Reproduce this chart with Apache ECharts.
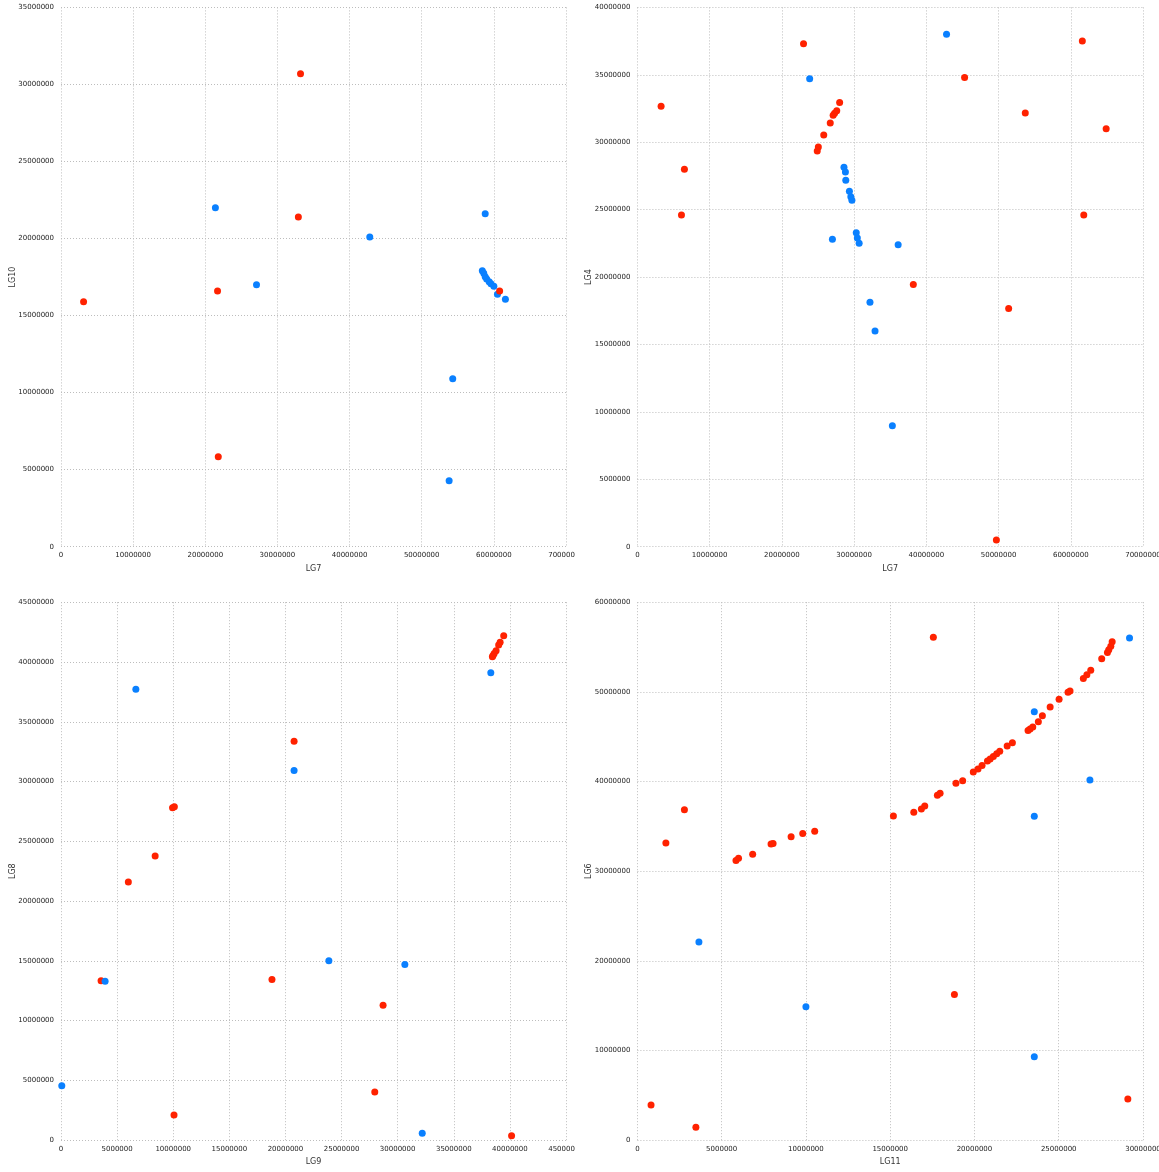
<!DOCTYPE html>
<html>
<head>
<meta charset="utf-8">
<script src="https://cdn.jsdelivr.net/npm/echarts@6/dist/echarts.min.js"></script>
<style>
html,body{margin:0;padding:0;background:#fff;width:1159px;height:1172px;overflow:hidden;}
.c{position:absolute;}
</style>
</head>
<body>
<div id="c1" class="c" style="left:0;top:0;width:575px;height:588px;"></div>
<div id="c2" class="c" style="left:578px;top:0;width:581px;height:588px;"></div>
<div id="c3" class="c" style="left:0;top:590px;width:575px;height:582px;"></div>
<div id="c4" class="c" style="left:578px;top:590px;width:581px;height:582px;"></div>
<script>
// Panel 1: LG7 (x) vs LG10 (y)
const p1Red = [[3130000,15900000],[33200000,30700000],[32900000,21400000],[21700000,16600000],[21800000,5840000],[60800000,16590000]];
const p1Blue = [[21400000,22000000],[27100000,17000000],[42800000,20100000],[58800000,21600000],[54300000,10900000],[53800000,4280000],[58400000,17910000],[58600000,17740000],[58800000,17520000],[59000000,17370000],[59350000,17200000],[59600000,17070000],[60000000,16900000],[60500000,16380000],[61600000,16060000]];
// Panel 2: LG7 (x) vs LG4 (y)
const p2Red = [[3280000,32660000],[6510000,28000000],[6100000,24600000],[23000000,37300000],[45300000,34800000],[38200000,19450000],[51400000,17660000],[49700000,490000],[53700000,32170000],[61600000,37500000],[64900000,31000000],[61800000,24600000],[28000000,32940000],[27600000,32330000],[27300000,32150000],[27100000,32000000],[26700000,31420000],[25800000,30530000],[25050000,29650000],[24900000,29350000]];
const p2Blue = [[23850000,34700000],[42800000,38000000],[36100000,22400000],[32200000,18130000],[32900000,16000000],[35300000,8980000],[28600000,28150000],[28800000,27800000],[28850000,27180000],[29350000,26360000],[29550000,25960000],[29700000,25700000],[30300000,23290000],[30450000,22900000],[30700000,22500000],[27000000,22800000]];
// Panel 3: LG9 (x) vs LG8 (y)
const p3Red = [[3570000,13330000],[6000000,21600000],[8390000,23770000],[9940000,27800000],[10100000,27900000],[10070000,2110000],[18800000,13450000],[20770000,33370000],[27960000,4030000],[28700000,11280000],[40150000,370000],[39450000,42200000],[39130000,41650000],[39000000,41430000],[38770000,40930000],[38600000,40700000],[38500000,40540000],[38440000,40430000]];
const p3Blue = [[6670000,37710000],[20770000,30930000],[23870000,15000000],[30640000,14690000],[32190000,590000],[70000,4560000],[3930000,13290000],[38300000,39100000]];
// Panel 4: LG11 (x) vs LG6 (y)
const p4Red = [[810000,3930000],[1690000,33140000],[2790000,36860000],[3470000,1450000],[18810000,16240000],[29100000,4590000],[17560000,56100000],[5850000,31200000],[6000000,31450000],[6840000,31900000],[7930000,33030000],[8050000,33100000],[9120000,33850000],[9810000,34200000],[10520000,34450000],[15190000,36150000],[16400000,36570000],[16850000,36930000],[17050000,37270000],[17800000,38460000],[17960000,38700000],[18900000,39800000],[19300000,40100000],[19930000,41060000],[20210000,41400000],[20450000,41800000],[20770000,42300000],[20930000,42500000],[21120000,42800000],[21320000,43100000],[21500000,43370000],[21940000,43960000],[22250000,44330000],[23180000,45700000],[23300000,45860000],[23460000,46080000],[23790000,46670000],[24030000,47340000],[24490000,48300000],[25020000,49170000],[25550000,49950000],[25670000,50100000],[26460000,51500000],[26670000,51900000],[26900000,52400000],[27550000,53700000],[27890000,54400000],[27970000,54700000],[28090000,55100000],[28170000,55600000]];
const p4Blue = [[3650000,22100000],[10000000,14880000],[23550000,47770000],[23550000,36130000],[23550000,9300000],[26850000,40180000],[29200000,56000000]];

const xNames = ['LG7','LG7','LG9','LG11'];
const yNames = ['LG10','LG4','LG8','LG6'];
const xMax = [70000000,70000000,45000000,30000000];
const xStep = [10000000,10000000,5000000,5000000];
const yMax = [35000000,40000000,45000000,60000000];
const yStep = [5000000,5000000,5000000,10000000];

const RED = '#ff2200', BLUE = '#0a80ff';
const FONT = 'DejaVu Sans';

function axis(name, max, step, isX) {
  return {
    type: 'value', min: 0, max: max, interval: step,
    name: name, nameLocation: 'middle', nameGap: isX ? 18 : 44, nameMoveOverlap: false,
    nameTextStyle: {fontSize: 8, color: '#333', fontFamily: FONT},
    axisLine: {show: false}, axisTick: {show: false},
    axisLabel: {fontSize: 7, color: '#222', fontFamily: FONT, margin: isX ? 5 : 7,
      formatter: function (v) { return String(v); }},
    splitLine: {show: true, lineStyle: {type: [1, 2], color: '#bdbdbd', width: 1}}
  };
}

function makeOption(i, grid, red, blue, redOnTop) {
  const sRed = {type: 'scatter', data: red, symbolSize: 7, itemStyle: {color: RED, opacity: 1}, z: redOnTop ? 3 : 2};
  const sBlue = {type: 'scatter', data: blue, symbolSize: 7, itemStyle: {color: BLUE, opacity: 1}, z: redOnTop ? 2 : 3};
  return {
    animation: false,
    backgroundColor: '#fff',
    grid: Object.assign({containLabel: false, outerBoundsMode: 'none'}, grid),
    xAxis: axis(xNames[i], xMax[i], xStep[i], true),
    yAxis: axis(yNames[i], yMax[i], yStep[i], false),
    series: [sRed, sBlue]
  };
}

const grids = [
  {left: 61, top: 7.4, width: 505, height: 539.3},
  {left: 59.4, top: 7.4, width: 505.6, height: 539.3},
  {left: 61, top: 12.2, width: 505, height: 538},
  {left: 59.4, top: 12.2, width: 505.6, height: 538}
];
const reds = [p1Red, p2Red, p3Red, p4Red];
const blues = [p1Blue, p2Blue, p3Blue, p4Blue];
['c1','c2','c3','c4'].forEach(function(id, i) {
  const ch = echarts.init(document.getElementById(id), null, {renderer: 'canvas'});
  ch.setOption(makeOption(i, grids[i], reds[i], blues[i], i === 0));
});
</script>
</body>
</html>
